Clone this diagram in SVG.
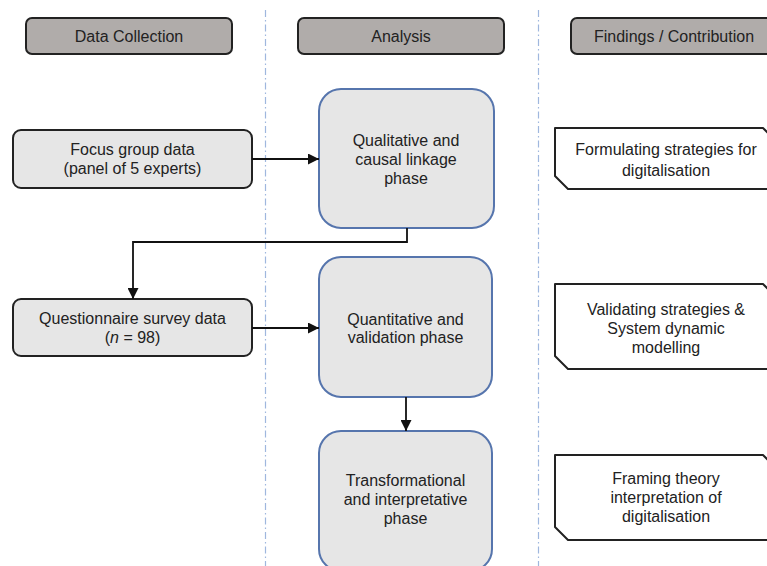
<svg xmlns="http://www.w3.org/2000/svg" width="767" height="566" viewBox="0 0 767 566">
<style>
text{font-family:"Liberation Sans",Arial,sans-serif;font-size:16px;fill:#222;text-anchor:middle}
.hdr{fill:#b0acaa;stroke:#222;stroke-width:2}
.src{fill:#e6e6e6;stroke:#222;stroke-width:2}
.phase{fill:#e6e6e6;stroke:#5675ad;stroke-width:2}
.find{fill:#fff;stroke:#222;stroke-width:2;stroke-linejoin:round}
.div{stroke:#9fb7de;stroke-width:1.2;stroke-dasharray:7 3 1.5 3;fill:none}
.conn{stroke:#111;stroke-width:1.8;fill:none}
</style>
<defs>
<marker id="ah" viewBox="0 0 10 10" refX="10" refY="5" markerWidth="11" markerHeight="11" markerUnits="userSpaceOnUse" orient="auto">
<path d="M0,0 L10,5 L0,10 Z" fill="#111"/>
</marker>
</defs>
<rect width="767" height="566" fill="#fff"/>
<g id="dividers">
<line class="div" x1="265.5" y1="10" x2="265.5" y2="566"/>
<line class="div" x1="538.5" y1="10" x2="538.5" y2="566"/>
</g>
<g id="hdr-data">
<rect class="hdr" x="26" y="18" width="206" height="36" rx="6"/>
<text x="129" y="42">Data Collection</text>
</g>
<g id="hdr-analysis">
<rect class="hdr" x="298" y="18" width="206" height="36" rx="6"/>
<text x="401" y="42">Analysis</text>
</g>
<g id="hdr-findings">
<rect class="hdr" x="571" y="18" width="206" height="36" rx="6"/>
<text x="674" y="42">Findings / Contribution</text>
</g>
<g id="focus">
<rect class="src" x="13" y="130" width="239" height="58" rx="8"/>
<text x="132.5" y="155">Focus group data</text>
<text x="132.5" y="174">(panel of 5 experts)</text>
</g>
<g id="questionnaire">
<rect class="src" x="13" y="299" width="239" height="57" rx="8"/>
<text x="132.5" y="324">Questionnaire survey data</text>
<text x="132.5" y="343">(<tspan font-style="italic">n</tspan> = 98)</text>
</g>
<g id="qualitative">
<rect class="phase" x="319" y="89" width="175" height="139" rx="22"/>
<text x="406" y="146">Qualitative and</text>
<text x="406" y="165">causal linkage</text>
<text x="406" y="184">phase</text>
</g>
<g id="quantitative">
<rect class="phase" x="319" y="257" width="173" height="140" rx="22"/>
<text x="405.5" y="325">Quantitative and</text>
<text x="405.5" y="343">validation phase</text>
</g>
<g id="transformational">
<rect class="phase" x="319" y="431" width="173" height="140" rx="22"/>
<text x="405.5" y="486">Transformational</text>
<text x="405.5" y="505">and interpretative</text>
<text x="405.5" y="524">phase</text>
</g>
<g id="finding1">
<path class="find" d="M555,128 L763,128 L777,142 L777,189 L568,189 L555,176 Z"/>
<text x="666" y="155">Formulating strategies for</text>
<text x="666" y="176">digitalisation</text>
</g>
<g id="finding2">
<path class="find" d="M555,284 L763,284 L777,298 L777,369 L568,369 L555,356 Z"/>
<text x="666" y="315">Validating strategies &amp;</text>
<text x="666" y="334">System dynamic</text>
<text x="666" y="353">modelling</text>
</g>
<g id="finding3">
<path class="find" d="M555,455 L763,455 L777,469 L777,540 L568,540 L555,527 Z"/>
<text x="666" y="484">Framing theory</text>
<text x="666" y="503">interpretation of</text>
<text x="666" y="522">digitalisation</text>
</g>
<g id="connectors">
<line class="conn" x1="252" y1="159" x2="319" y2="159" marker-end="url(#ah)"/>
<line class="conn" x1="252" y1="328" x2="319" y2="328" marker-end="url(#ah)"/>
<polyline class="conn" points="407,228 407,242 133,242 133,299" marker-end="url(#ah)"/>
<line class="conn" x1="406" y1="397" x2="406" y2="431" marker-end="url(#ah)"/>
</g>
</svg>
